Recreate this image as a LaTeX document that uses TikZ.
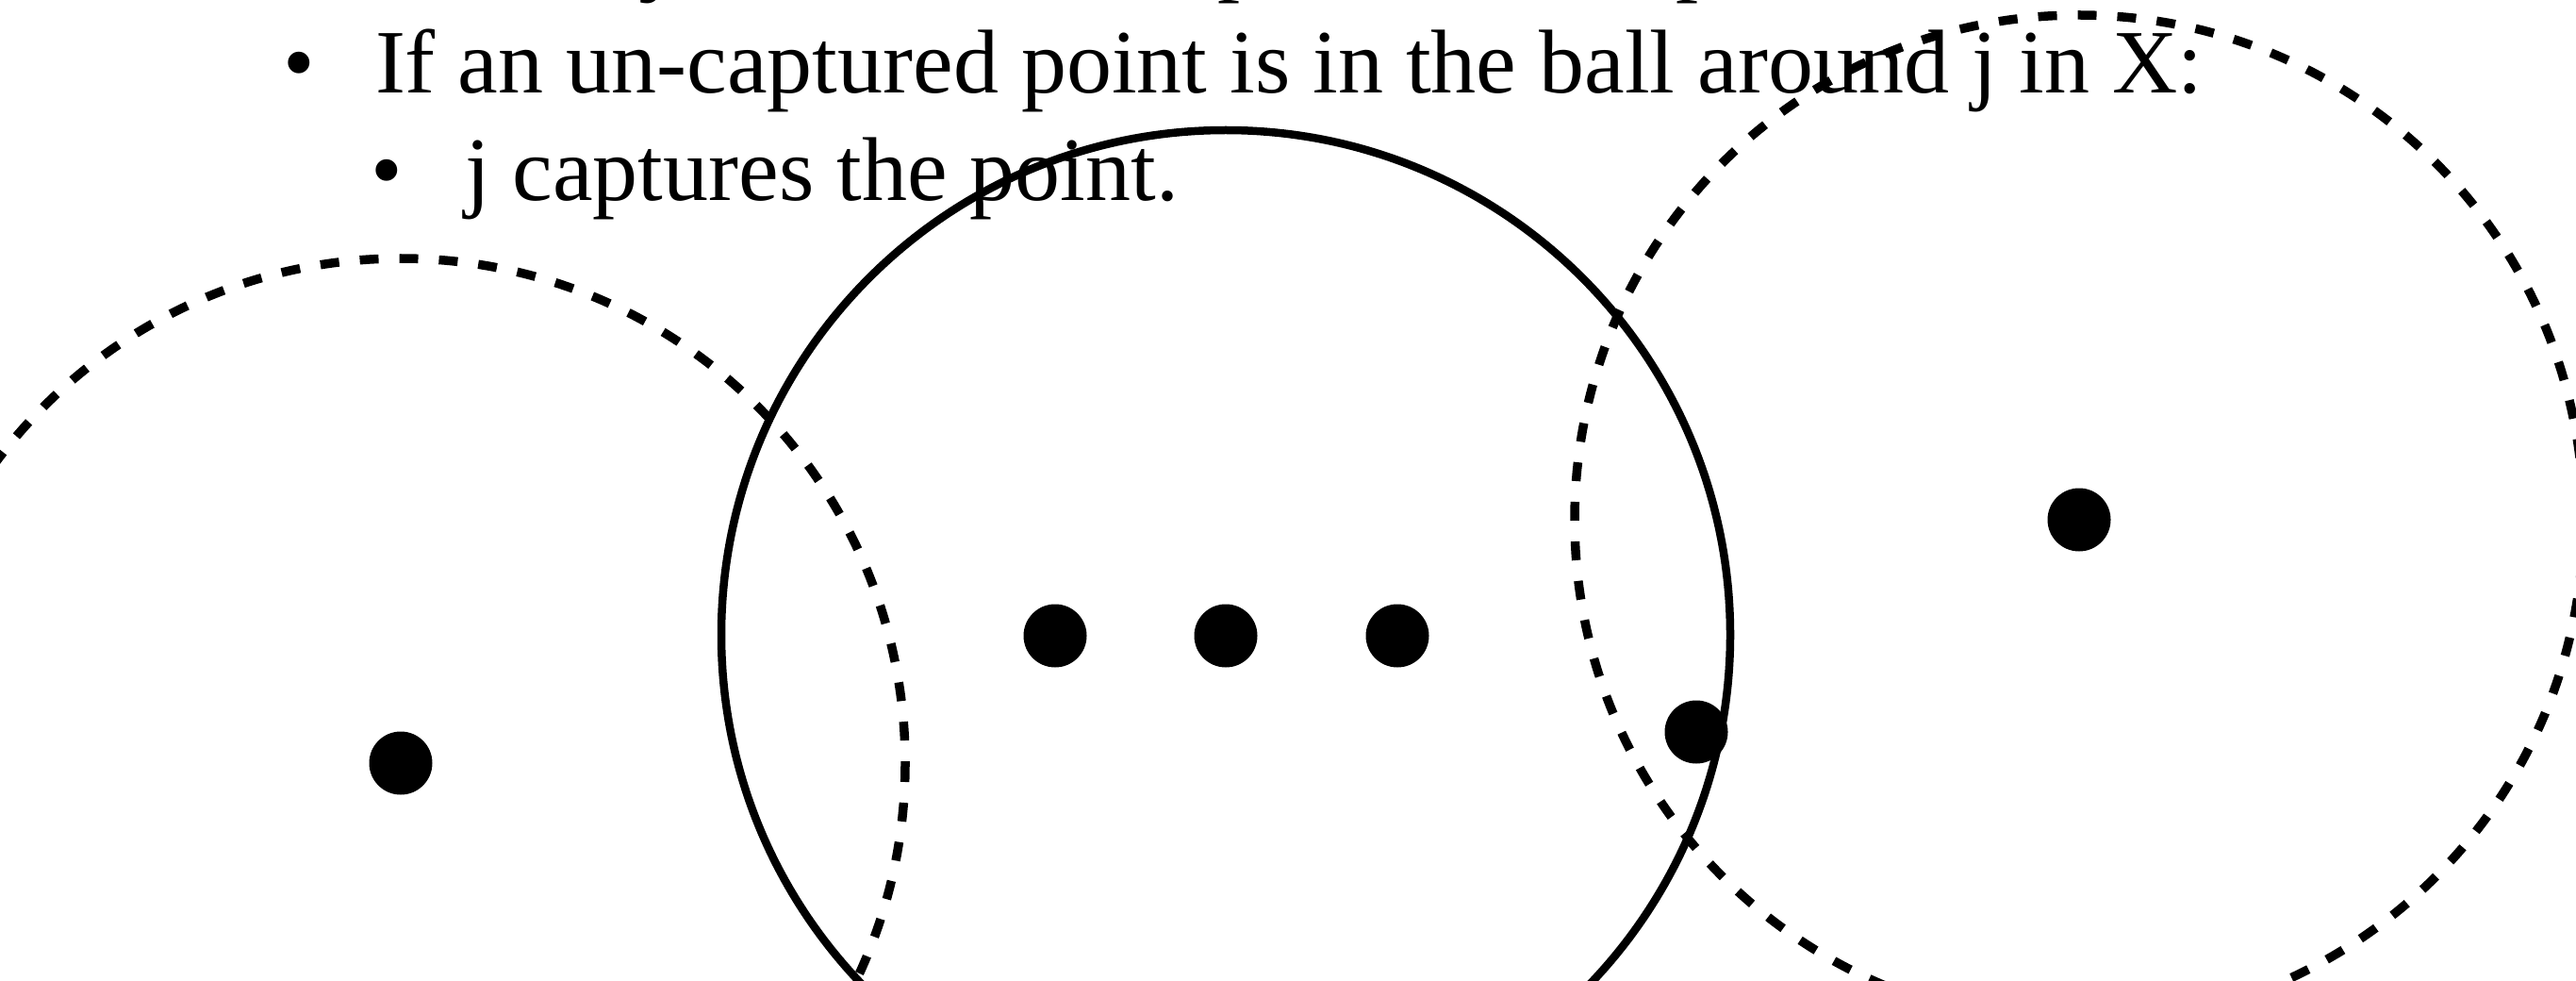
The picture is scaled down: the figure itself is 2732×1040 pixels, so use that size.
\documentclass[tikz,border=0pt]{standalone}
\usepackage{fontspec}
\setmainfont{Liberation Serif}
\begin{document}
\begin{tikzpicture}[x=1pt,y=-1pt,
  txt/.style={anchor=base west,inner sep=0pt,outer sep=0pt,font=\fontsize{96}{115}\selectfont},
  ball/.style={line width=9.5pt,dash pattern=on 20pt off 22pt},
  solidball/.style={line width=8.5pt},
  pt/.style={circle,fill=black,inner sep=0pt,minimum size=67pt}]
\useasboundingbox (0,0) rectangle (2732,1040);
\fill[white] (0,0) rectangle (2732,1040);
% cut-off line above the picture (only descenders visible)
\node[txt] (g1) at (682,-16) {j};
\node[txt] (g2) at (1291,-16) {p};
\node[txt] (g3) at (1777,-16) {p};
% bullets and text
\node[txt] (b1) at (300,99) {\textbullet};
\node[txt] (t1) at (398,99) {If an un-captured point is in the ball around j in X:};
\node[txt] (b2) at (393,213) {\textbullet};
\node[txt] (t2) at (493,213) {j captures the point.};
% balls
\coordinate (cL) at (425,809);
\coordinate (cM) at (1300,673);
\coordinate (cR) at (2205,551);
\draw[ball] (cL) circle[radius=535];
\draw[solidball] (cM) circle[radius=535];
\draw[ball] (cR) circle[radius=535];
% points
\node[pt] (p1) at (cL) {};
\node[pt] (p2) at (1119,674) {};
\node[pt] (p3) at (1300,674) {};
\node[pt] (p4) at (1482,674) {};
\node[pt] (p5) at (1799,776) {};
\node[pt] (p6) at (cR) {};
\end{tikzpicture}
\end{document}
